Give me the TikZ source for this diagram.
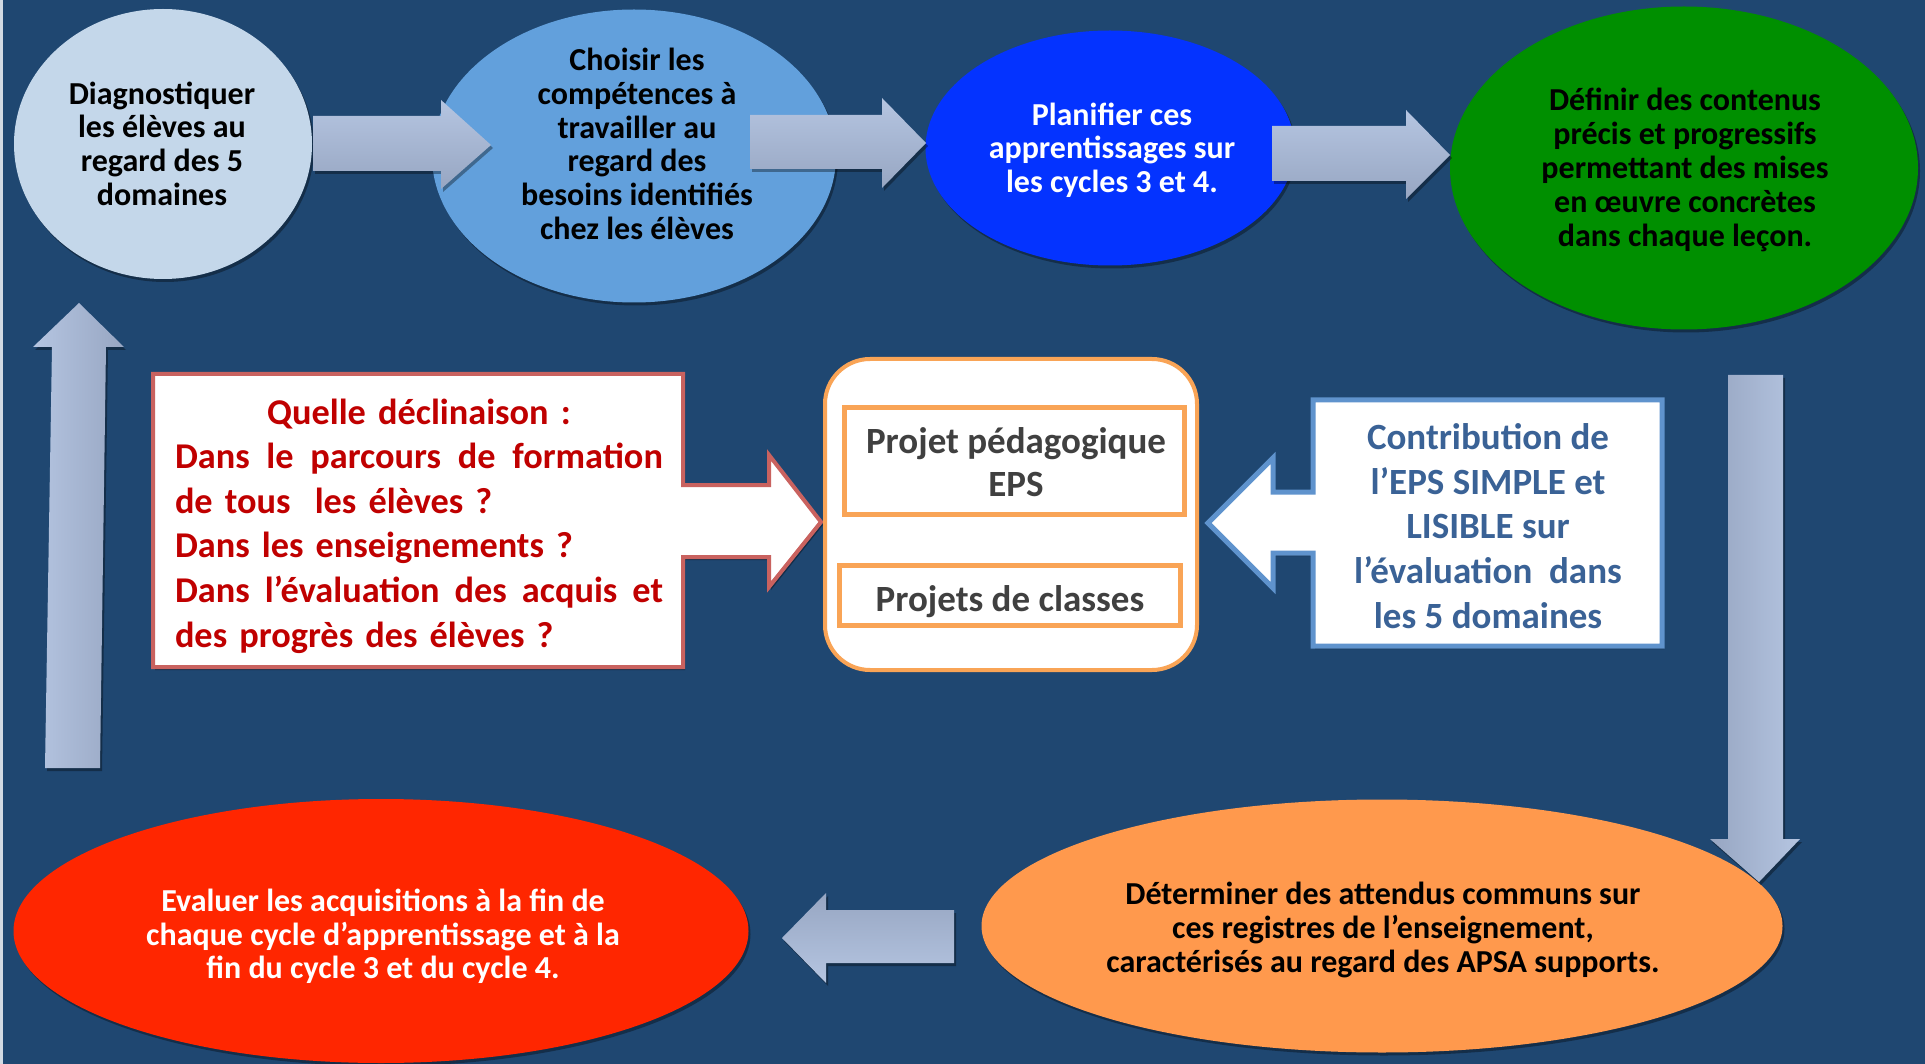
\documentclass[tikz,border=0pt]{standalone}
\usepackage{fontspec}
\setmainfont{Carlito}
\usetikzlibrary{shapes.geometric,shadows}
\definecolor{bg}{HTML}{1F4771}
\definecolor{cA}{HTML}{C4D7EA}
\definecolor{cB}{HTML}{62A0DC}
\definecolor{cC}{HTML}{0433FF}
\definecolor{cD}{HTML}{008F00}
\definecolor{cE}{HTML}{FF994D}
\definecolor{cF}{HTML}{FF2600}
\definecolor{arrL}{HTML}{B5C5E1}
\definecolor{arrD}{HTML}{97A6C2}
\definecolor{redB}{HTML}{C9625F}
\definecolor{redT}{HTML}{C00000}
\definecolor{orgB}{HTML}{F9A456}
\definecolor{grayT}{HTML}{404040}
\definecolor{bluB}{HTML}{5F93CD}
\definecolor{bluT}{HTML}{3A6296}
\tikzset{
  shad/.style={drop shadow={opacity=0.35,shadow xshift=2pt,shadow yshift=-3pt,fill=black}},
  bub/.style={ellipse,inner sep=0pt,shad},
  txt/.style={align=center,inner sep=0pt,font=\bfseries\fontsize{32}{33.7}\selectfont},
  btxt/.style={align=center,inner sep=0pt,font=\bfseries\fontsize{37}{44.6}\selectfont},
  harr/.style={shad,top color=arrL,bottom color=arrD},
  harrR/.style={shad,top color=arrD,bottom color=arrL},
  varrL/.style={shad,left color=arrL,right color=arrD},
  varrR/.style={shad,left color=arrD,right color=arrL},
}
\begin{document}
\begin{tikzpicture}[x=1pt,y=-1pt]
\useasboundingbox (0,0) rectangle (1925,1064);
\fill[bg] (0,0) rectangle (1925,1064);
\fill[white!80!bg] (0,0) rectangle (2.5,1064);

% ellipses
\node[bub,fill=cA,minimum width=298pt,minimum height=270pt] (e1) at (163,144) {};
\node[bub,fill=cB,minimum width=404pt,minimum height=293pt] (e2) at (634,156) {};
\node[bub,fill=cC,minimum width=369pt,minimum height=235pt] (e3) at (1110,148) {};
\node[bub,fill=cD,minimum width=468pt,minimum height=323pt] (e4) at (1684,168) {};
\node[bub,fill=cE,minimum width=801pt,minimum height=253pt] (e5) at (1382,926) {};
\node[bub,fill=cF,minimum width=735pt,minimum height=264pt] (e6) at (381,931) {};

\node[txt] (t1) at (162,143.5) {Diagnostiquer\\les élèves au\\regard des 5\\domaines};
\node[txt] (t2) at (637,144) {Choisir les\\compétences à\\travailler au\\regard des\\besoins identifiés\\chez les élèves};
\node[txt,text=white] (t3) at (1112,150) {Planifier ces\\apprentissages sur\\les cycles 3 et 4.};
\node[txt,font=\bfseries\fontsize{32}{34.2}\selectfont] (t4) at (1685,170) {Définir des contenus\\précis et progressifs\\permettant des mises\\en œuvre concrètes\\dans chaque leçon.};
\node[txt] (t5) at (1383,930) {Déterminer des attendus communs sur\\ces registres de l’enseignement,\\caractérisés au regard des APSA supports.};
\node[txt,text=white] (t6) at (383,936.5) {Evaluer les acquisitions à la fin de\\chaque cycle d’apprentissage et à la\\fin du cycle 3 et du cycle 4.};

% block arrows
\path[harr] (313,116) -- (441,116) -- (441,100) -- (491,145) -- (441,189) -- (441,171) -- (313,171) -- cycle;
\path[harr] (750,115) -- (882,115) -- (882,98) -- (926,143) -- (882,188) -- (882,169) -- (750,169) -- cycle;
\path[harr] (1272,126) -- (1406,126) -- (1406,110) -- (1450,155) -- (1406,199) -- (1406,181) -- (1272,181) -- cycle;
\path[varrR] (1728,375) -- (1783,375) -- (1783,839) -- (1800,839) -- (1759,882) -- (1710,839) -- (1728,839) -- cycle;
\path[harrR] (954,910) -- (826,910) -- (826,893) -- (782,938) -- (826,983) -- (826,963) -- (954,963) -- cycle;
\path[varrL] (45,768) -- (100,768) -- (106,347) -- (124,347) -- (79,303) -- (33,347) -- (52,347) -- cycle;

% red callout
\draw[redB,line width=4pt,fill=white,line join=miter,shad]
  (153,374) -- (683,374) -- (683,485) -- (769,485) -- (769,455) -- (821,522)
  -- (769,587) -- (769,557) -- (683,557) -- (683,667) -- (153,667) -- cycle;
\node[btxt,text=redT,text width=488pt,align=left,font=\bfseries\fontsize{36.3}{44.6}\selectfont] (q) at (419,526)
  {\makebox[488pt][c]{Quelle déclinaison :}\\
   \makebox[488pt][s]{Dans\hfill le\hfill parcours\hfill de\hfill formation}\\
   de tous\ \ les élèves ?\\
   Dans les enseignements ?\\
   \makebox[488pt][s]{Dans\hfill l’évaluation\hfill des\hfill acquis\hfill et}\\
   des progrès des élèves ?};

% central box
\node[draw=orgB,line width=4pt,fill=white,rounded corners=45pt,minimum width=372pt,minimum height=311pt,inner sep=0pt] (c) at (1011,514.5) {};
\node[draw=orgB,line width=5pt,minimum width=340pt,minimum height=107pt,inner sep=0pt] (c1) at (1014.5,461) {};
\node[draw=orgB,line width=5pt,minimum width=341pt,minimum height=60pt,inner sep=0pt] (c2) at (1010,595.5) {};
\node[btxt,text=grayT,font=\bfseries\fontsize{37}{43}\selectfont] (c1t) at (1016,462) {Projet pédagogique\\EPS};
\node[btxt,text=grayT] (c2t) at (1010,601.5) {Projets de classes};

% blue callout
\draw[bluB,line width=5pt,fill=white,line join=miter,shad]
  (1313,400) -- (1662,400) -- (1662,646) -- (1313,646) -- (1313,553) -- (1273,553)
  -- (1273,588) -- (1208,523) -- (1273,458) -- (1273,492) -- (1313,492) -- cycle;
\node[btxt,text=bluT] (b) at (1488,526) {Contribution de\\l’EPS SIMPLE et\\LISIBLE sur\\l’évaluation\ \ dans\\les 5 domaines};
\end{tikzpicture}
\end{document}
